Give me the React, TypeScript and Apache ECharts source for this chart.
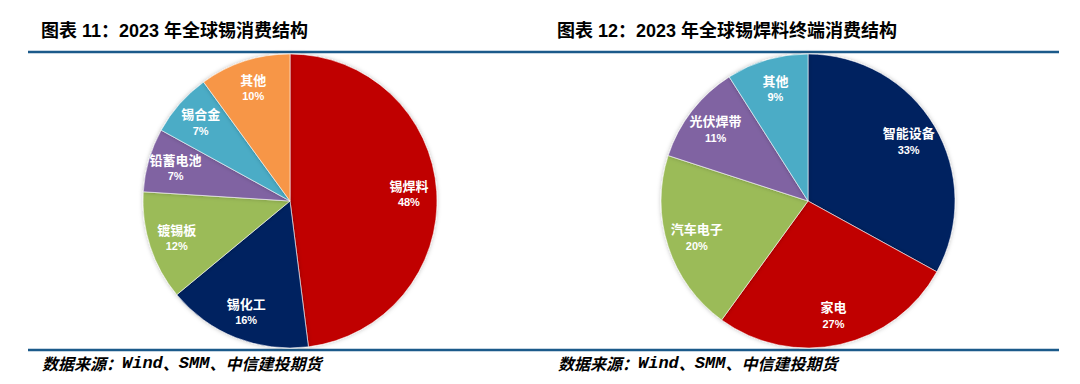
import React, { useEffect, useRef } from "react";
import * as echarts from "echarts";

const leftTitle = "图表 11：2023 年全球锡消费结构";
const rightTitle = "图表 12：2023 年全球锡焊料终端消费结构";
const sourceParts = ["数据来源：", "Wind", "、", "SMM", "、中信建投期货"];

const leftNames = ["锡焊料", "锡化工", "镀锡板", "铅蓄电池", "锡合金", "其他"];
const leftValues = [48, 16, 12, 7, 7, 10];
const leftColors = ["#C00000", "#002060", "#9BBB59", "#8064A2", "#4BACC6", "#F79646"];

const rightNames = ["智能设备", "家电", "汽车电子", "光伏焊带", "其他"];
const rightValues = [33, 27, 20, 11, 9];
const rightColors = ["#002060", "#C00000", "#9BBB59", "#8064A2", "#4BACC6"];

const CJK = "'Liberation Sans', 'Noto Sans CJK SC', sans-serif";

function pieSeries(
  names: string[],
  values: number[],
  colors: string[],
  cx: number,
  cy: number,
  r: number,
  labelInner: number
) {
  const data = names.map((n, i) => ({ name: n, value: values[i], itemStyle: { color: colors[i] } }));
  const base = {
    type: "pie",
    center: [cx, cy],
    startAngle: 90,
    clockwise: true,
    avoidLabelOverlap: false,
    emphasis: { disabled: true },
    labelLine: { show: false },
  };
  return [
    {
      ...base,
      radius: [0, r],
      silent: true,
      itemStyle: {
        borderColor: "rgba(255,255,255,0.7)",
        borderWidth: 0.8,
        shadowBlur: 4,
        shadowColor: "rgba(0,0,0,0.25)",
      },
      label: { show: false },
      data,
    },
    {
      ...base,
      radius: [r * labelInner, r],
      silent: true,
      z: 5,
      itemStyle: { color: "rgba(0,0,0,0)", borderWidth: 0 },
      label: {
        show: true,
        position: "inside",
        formatter: (p: any) => `{n|${p.name}}\n{v|${p.value}%}`,
        rich: {
          n: { color: "#fff", fontSize: 13, fontWeight: "bold", fontFamily: CJK, lineHeight: 17 },
          v: { color: "#fff", fontSize: 11, fontWeight: "bold", fontFamily: CJK, lineHeight: 15 },
        },
      },
      data: names.map((n, i) => ({ name: n, value: values[i], itemStyle: { color: "rgba(0,0,0,0)" } })),
    },
  ];
}

function sourceText(left: number) {
  const rich = {
    c: { fontSize: 16, fontStyle: "italic", fontWeight: "bold", fontFamily: "'Noto Sans CJK SC', sans-serif", fill: "#000" },
    l: { fontSize: 17, fontStyle: "italic", fontWeight: "bold", fontFamily: "'Liberation Mono', monospace", fill: "#000" },
  };
  const text = sourceParts
    .map((s, i) => (i % 2 === 1 ? `{l|${s}}` : `{c|${s}}`))
    .join("");
  return {
    type: "text",
    left,
    top: 354.5,
    style: { text, rich, fill: "#000" },
  };
}

export default function App() {
  const ref = useRef<HTMLDivElement>(null);
  useEffect(() => {
    if (!ref.current) return;
    const chart = echarts.init(ref.current, undefined, { renderer: "svg" });
    const lineColor = "#1B5A8A";
    chart.setOption({
      animation: false,
      backgroundColor: "#ffffff",
      series: [
        ...pieSeries(leftNames, leftValues, leftColors, 290, 201, 147, 0.58),
        ...pieSeries(rightNames, rightValues, rightColors, 808, 201, 147, 0.55),
      ],
      graphic: [
        {
          type: "text",
          left: 41,
          top: 21.5,
          style: { text: leftTitle, fill: "#000", font: `bold 18px ${CJK}` },
        },
        {
          type: "text",
          left: 557,
          top: 21.5,
          style: { text: rightTitle, fill: "#000", font: `bold 18px ${CJK}` },
        },
        {
          type: "line",
          shape: { x1: 28, y1: 52, x2: 1059, y2: 52 },
          style: { stroke: lineColor, lineWidth: 2.5 },
        },
        {
          type: "line",
          shape: { x1: 28, y1: 350, x2: 1059, y2: 350 },
          style: { stroke: lineColor, lineWidth: 2.5 },
        },
        sourceText(42),
        sourceText(558),
      ],
    });
    return () => chart.dispose();
  }, []);
  return (
    <div
      ref={ref}
      style={{ position: "fixed", left: 0, top: 0, width: 1080, height: 384, background: "#fff" }}
    />
  );
}
